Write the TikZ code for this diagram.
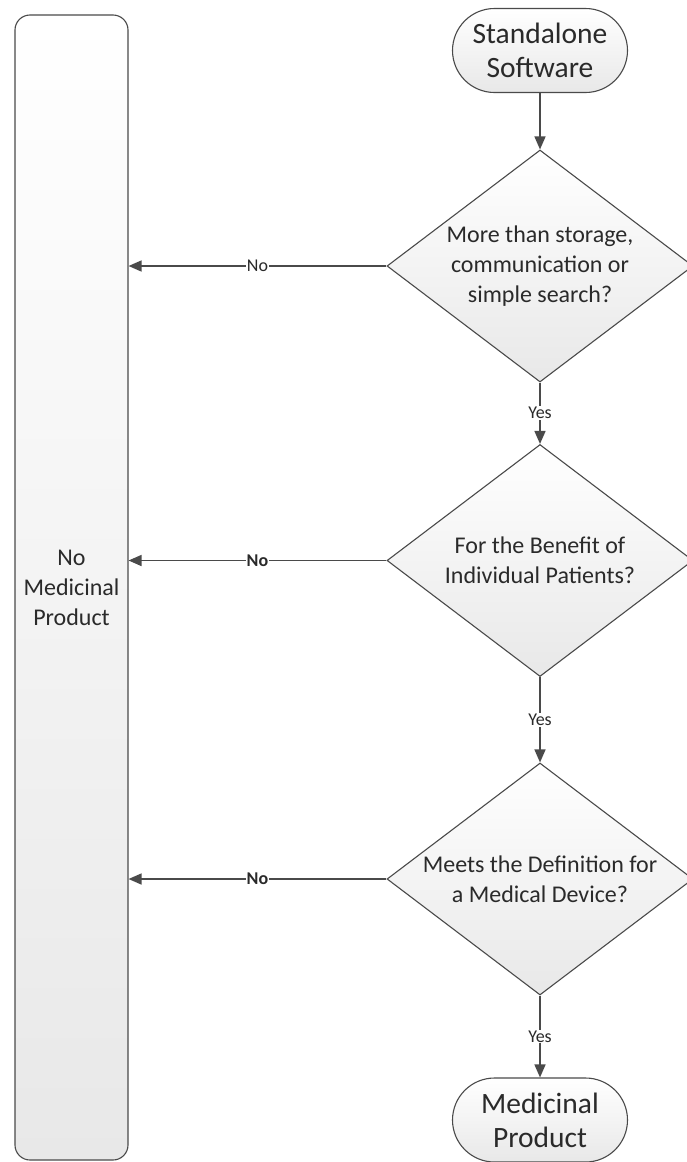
\documentclass[tikz,border=0pt]{standalone}
\usepackage{fontspec}
\setmainfont{Carlito}
\usetikzlibrary{shapes.geometric,arrows.meta}
\definecolor{edge}{HTML}{4A4A4A}
\definecolor{ink}{HTML}{2A2A2A}
\begin{document}
\begin{tikzpicture}[x=1pt,y=-1pt,
  shapebox/.style={draw=edge, line width=1.1pt, top color=white, bottom color=black!9, text=ink},
  dec/.style={shapebox, diamond, minimum width=306pt, minimum height=232pt, inner sep=0pt},
  dtext/.style={align=center, text=ink, font=\fontsize{24}{30}\selectfont},
  term/.style={shapebox, rectangle, rounded corners=42pt, minimum width=175pt, minimum height=84pt, align=center, inner sep=0pt, font=\fontsize{29.5}{34}\selectfont},
  tall/.style={shapebox, rectangle, rounded corners=15pt, minimum width=113pt, minimum height=1145pt, align=center, inner sep=0pt, font=\fontsize{24}{30}\selectfont},
  conn/.style={draw=edge, line width=1.5pt, -{Triangle[length=13pt,width=11pt]}},
  lbl/.style={fill=white, inner sep=1pt, text=ink, font=\fontsize{18}{20}\selectfont}]
\useasboundingbox (0,0) rectangle (686,1162);

\node[tall] (nmp) at (71.5,587.5) {No\\Medicinal\\Product};

\node[term] (start) at (540,50.5) {Standalone\\Software};
\node[dec] (d1) at (540,266) {};
\node[dtext] (d1t) at (d1.center) {More than storage,\\communication or\\simple search?};
\node[dec] (d2) at (540,560.5) {};
\node[dtext] (d2t) at (d2.center) {For the Benefit of\\Individual Patients?};
\node[dec] (d3) at (540,879) {};
\node[dtext] (d3t) at (d3.center) {Meets the Definition for\\a Medical Device?};
\node[term] (end) at (540,1120) {Medicinal\\Product};

\draw[conn] (start) -- (d1);
\draw[conn] (d1) -- node[lbl] {Yes} (d2);
\draw[conn] (d2) -- node[lbl] {Yes} (d3);
\draw[conn] (d3) -- node[lbl] {Yes} (end);

\draw[conn] (d1.west) -- (d1.west -| nmp.east) node[midway, lbl] {No};
\draw[conn] (d2.west) -- (d2.west -| nmp.east) node[midway, lbl] {\bfseries No};
\draw[conn] (d3.west) -- (d3.west -| nmp.east) node[midway, lbl] {\bfseries No};
\end{tikzpicture}
\end{document}
